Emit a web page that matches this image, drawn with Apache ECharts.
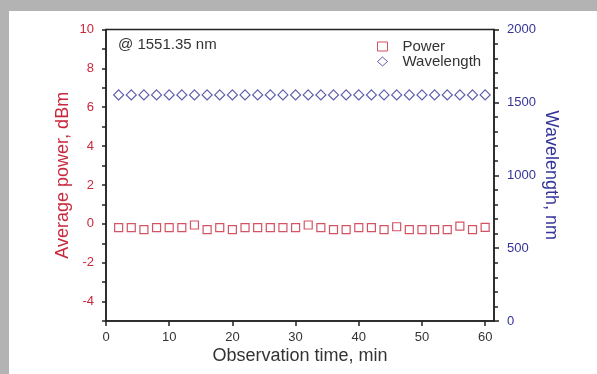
<!DOCTYPE html>
<html>
<head>
<meta charset="utf-8">
<script src="https://cdn.jsdelivr.net/npm/echarts@6/dist/echarts.min.js"></script>
<style>
  html, body { margin: 0; padding: 0; background: #b3b3b3; }
  #chart { width: 597px; height: 374px; }
</style>
</head>
<body>
<div id="chart"></div>
<script>
// observation time, min
const timeMin = [2, 4, 6, 8, 10, 12, 14, 16, 18, 20, 22, 24, 26, 28, 30,
  32, 34, 36, 38, 40, 42, 44, 46, 48, 50, 52, 54, 56, 58, 60]
// average power, dBm
const powerDbm = [-0.2, -0.2, -0.3, -0.2, -0.2, -0.2, -0.06, -0.3, -0.2, -0.3,
  -0.2, -0.2, -0.2, -0.2, -0.2, -0.06, -0.2, -0.3, -0.3, -0.2,
  -0.2, -0.3, -0.15, -0.3, -0.3, -0.3, -0.3, -0.12, -0.3, -0.18]
// wavelength, nm
const wavelengthNm = [1551.35, 1551.35, 1551.35, 1551.35, 1551.35, 1551.35, 1551.35, 1551.35, 1551.35, 1551.35,
  1551.35, 1551.35, 1551.35, 1551.35, 1551.35, 1551.35, 1551.35, 1551.35, 1551.35, 1551.35,
  1551.35, 1551.35, 1551.35, 1551.35, 1551.35, 1551.35, 1551.35, 1551.35, 1551.35, 1551.35]
const xTicks = [0, 10, 20, 30, 40, 50, 60]
const leftLabels = [-4, -2, 0, 2, 4, 6, 8, 10]

const red = '#c8283c'
const blue = '#34349a'
const frame = '#222222'
const font = 'Liberation Sans'

const chart = echarts.init(document.getElementById('chart'))
chart.setOption({
  backgroundColor: '#b3b3b3',
  textStyle: { fontFamily: font },
  animation: false,
  graphic: [{
    type: 'rect',
    z: -10,
    shape: { x: 9, y: 11, width: 600, height: 370 },
    style: { fill: '#ffffff' }
  }, {
    type: 'text',
    left: 118,
    top: 37,
    z: 10,
    style: { text: '@ 1551.35 nm', font: '15px "Liberation Sans"', fill: '#333333' }
  }],
  grid: {
    left: 106,
    right: 103,
    top: 29.5,
    bottom: 53,
    show: true,
    borderColor: frame,
    borderWidth: 1.5
  },
  legend: {
    orient: 'vertical',
    left: 372,
    top: 34,
    itemWidth: 10,
    itemHeight: 9,
    itemGap: 0,
    symbolKeepAspect: true,
    itemStyle: { borderWidth: 1 },
    textStyle: { fontSize: 15, color: '#333333', fontFamily: font, padding: [0, 0, 0, 10] },
    data: ['Power', 'Wavelength']
  },
  xAxis: {
    type: 'value',
    min: 0,
    max: 61.4,
    name: 'Observation time, min',
    nameLocation: 'middle',
    nameGap: 26,
    nameMoveOverlap: false,
    nameTextStyle: { fontSize: 18, color: '#333333' },
    axisLine: { onZero: false, lineStyle: { color: frame, width: 1.5 } },
    axisTick: { customValues: xTicks, length: 5, lineStyle: { color: frame, width: 1.5 } },
    axisLabel: { customValues: xTicks, margin: 10, fontSize: 13, color: '#333333' },
    splitLine: { show: false }
  },
  yAxis: [{
    type: 'value',
    position: 'left',
    min: -5,
    max: 10,
    interval: 1,
    name: 'Average power, dBm',
    nameLocation: 'middle',
    nameGap: 34,
    nameMoveOverlap: false,
    nameTextStyle: { fontSize: 18, color: red },
    axisLine: { show: true, onZero: false, lineStyle: { color: frame, width: 1.5 } },
    axisTick: { length: 4, lineStyle: { color: frame, width: 1.5 } },
    axisLabel: {
      customValues: leftLabels,
      margin: 12,
      fontSize: 13,
      color: red
    },
    splitLine: { show: false }
  }, {
    type: 'value',
    position: 'right',
    min: 0,
    max: 2000,
    interval: 500,
    name: 'Wavelength, nm',
    nameLocation: 'middle',
    nameRotate: -90,
    nameGap: 48,
    nameMoveOverlap: false,
    nameTextStyle: { fontSize: 18, color: blue },
    axisLine: { show: true, onZero: false, lineStyle: { color: frame, width: 1.5 } },
    axisTick: { length: 5, lineStyle: { color: frame, width: 1.5 } },
    minorTick: { show: true, splitNumber: 5, length: 4, lineStyle: { color: frame, width: 1.5 } },
    axisLabel: { margin: 13, fontSize: 13, color: blue, formatter: v => String(v) },
    splitLine: { show: false }
  }],
  series: [{
    name: 'Power',
    type: 'scatter',
    yAxisIndex: 0,
    symbol: 'rect',
    symbolSize: 8,
    itemStyle: { color: '#ffffff', borderColor: red, borderWidth: 1.2 },
    data: timeMin.map((t, i) => [t, powerDbm[i]])
  }, {
    name: 'Wavelength',
    type: 'scatter',
    yAxisIndex: 1,
    symbol: 'diamond',
    symbolSize: 10,
    itemStyle: { color: '#ffffff', borderColor: blue, borderWidth: 1.2 },
    data: timeMin.map((t, i) => [t, wavelengthNm[i]])
  }]
})
</script>
</body>
</html>
